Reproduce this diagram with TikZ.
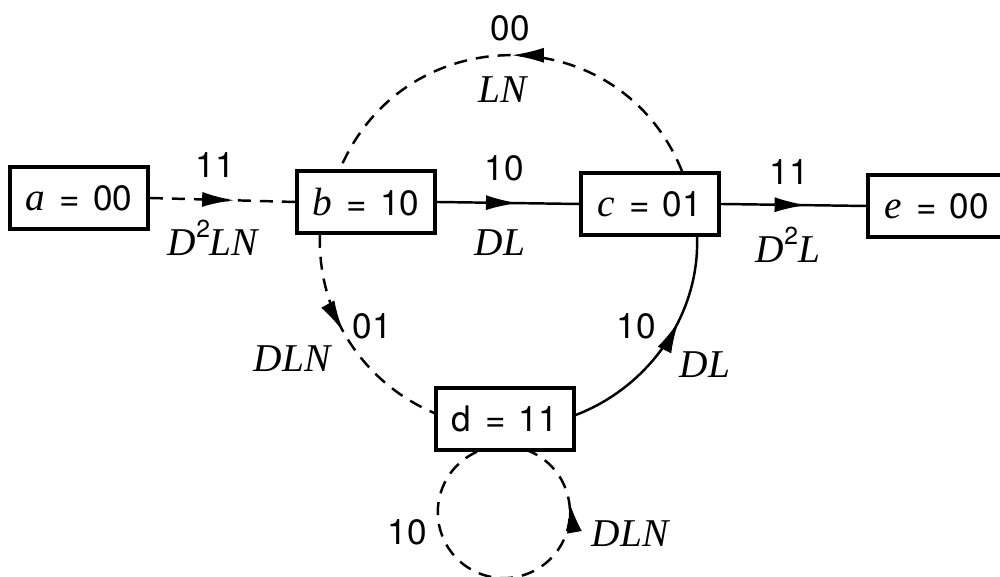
\documentclass[tikz,border=0pt]{standalone}
\usepackage{fontspec}
\setmainfont{TeX Gyre Heros}
\newfontfamily\varfont{Liberation Serif}
\usetikzlibrary{arrows.meta,decorations.markings,calc}
\newcommand\vv[1]{{\fontsize{11.2}{13}\varfont\itshape #1}}
\newcommand\sqd{\raisebox{1.0ex}{\fontsize{7}{8}\selectfont 2}}
\newcommand\eqsp{\hspace{1.4mm}=\hspace{1.3mm}}
\tikzset{
  box/.style={draw,line width=1pt,minimum width=1.38cm,minimum height=0.62cm,inner sep=0pt,font=\fontsize{10}{12}\selectfont},
  lbl/.style={inner sep=0pt,font=\fontsize{10}{12}\selectfont},
  conn/.style={line width=0.7pt},
  dsh/.style={conn,dash pattern=on 1.3mm off 0.9mm},
  midarrow/.style={postaction={decorate,decoration={markings,mark=at position #1 with {\arrow{Latex[length=3.2mm,width=1.5mm]}}}}}
}
\begin{document}
\begin{tikzpicture}[x=0.01cm,y=0.01cm]
\useasboundingbox (0,0) rectangle (1000,577);
% states
\node[box] (a) at (79,379) {\vv{a}\eqsp 00};
\node[box] (b) at (366,375) {\vv{b}\eqsp 10};
\node[box] (c) at (650,373) {\vv{c}\eqsp 01};
\node[box] (d) at (505,158) {d\eqsp 11};
\node[box] (e) at (937,371) {\vv{e}\eqsp 00};
% attachment points
\coordinate (c1) at ([xshift=0.32cm]c.north);
\coordinate (b1) at ([xshift=-0.26cm]b.north);
\coordinate (b2) at ([xshift=-0.46cm]b.south);
\coordinate (d1) at ([yshift=0.06cm]d.west);
\coordinate (d2) at ([yshift=0.04cm]d.east);
\coordinate (c2) at ([xshift=0.47cm]c.south);
\coordinate (l1) at ([xshift=-0.28cm]d.south);
% transitions
\draw[dsh,midarrow=0.58] (a.east) -- (b.west);
\draw[conn,midarrow=0.57] (b.east) -- (c.west);
\draw[conn,midarrow=0.59] (c.east) -- (e.west);
\draw[dsh,midarrow=0.5] (c1) to[out=112,in=67,looseness=1.24] (b1);
\draw[dsh,midarrow=0.45] (b2) to[out=268,in=157,looseness=0.94] (d1);
\draw[conn,midarrow=0.62] (d2) to[out=21,in=272,looseness=0.93] (c2);
\draw[dsh,midarrow=0.815] (l1) arc[start angle=114,end angle=428,radius=0.66cm];
% labels
\node[lbl] (t1) at (215,412) {11};
\node[lbl] (g1) at (213,339) {\vv{D}\sqd\vv{LN}};
\node[lbl] (t2) at (504,409) {10};
\node[lbl] (g2) at (500,334) {\vv{DL}};
\node[lbl] (t3) at (789,405) {11};
\node[lbl] (g3) at (788,332) {\vv{D}\sqd\vv{L}};
\node[lbl] (t4) at (510,549) {00};
\node[lbl] (g4) at (503,487) {\vv{LN}};
\node[lbl] (t5) at (372,251) {01};
\node[lbl] (g5) at (292,218) {\vv{DLN}};
\node[lbl] (t6) at (636,251) {10};
\node[lbl] (g6) at (705,212) {\vv{DL}};
\node[lbl] (t7) at (407,45) {10};
\node[lbl] (g7) at (630,43) {\vv{DLN}};
\end{tikzpicture}
\end{document}
